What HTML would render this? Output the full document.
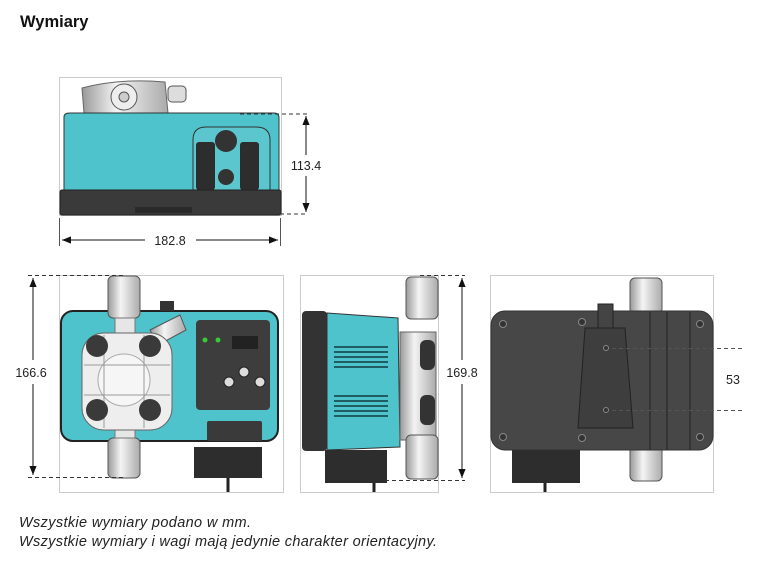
<!DOCTYPE html>
<html><head><meta charset="utf-8"><style>
body{margin:0;background:#fff;width:778px;height:562px;overflow:hidden;font-family:"Liberation Sans",Arial,sans-serif}
svg{position:absolute;left:0;top:0}
</style></head><body>
<svg width="778" height="562" viewBox="0 0 778 562" font-family="Liberation Sans, Arial, sans-serif">
<defs>
<linearGradient id="g" x1="0" x2="1"><stop offset="0" stop-color="#999"/><stop offset=".4" stop-color="#f4f4f4"/><stop offset="1" stop-color="#aaa"/></linearGradient>
<marker id="a" viewBox="0 0 10 10" refX="10" refY="5" markerWidth="9" markerHeight="9" orient="auto-start-reverse"><path d="M0,1L10,5L0,9z" fill="#111"/></marker>
</defs>
<text x="20" y="27" font-size="16.5" font-weight="bold" fill="#111">Wymiary</text>

<!-- TOP VIEW -->
<rect x="59.5" y="77.5" width="222" height="138" fill="none" stroke="#ccc"/>
<path d="M82,88 Q120,78 165,82 L168,113 L84,113z" fill="url(#g)" stroke="#666"/>
<circle cx="124" cy="97" r="13" fill="#eee" stroke="#555"/>
<circle cx="124" cy="97" r="5" fill="#ccc" stroke="#555"/>
<rect x="168" y="86" width="18" height="16" rx="4" fill="#ddd" stroke="#555"/>
<path d="M64,117 Q64,113 70,113 L274,113 Q279,113 279,118 L279,190 L64,190z" fill="#4ec3cb" stroke="#333"/>
<path d="M193,190 L193,140 Q193,127 206,127 L256,127 Q270,127 270,140 L270,190" fill="#5bc6cd" stroke="#333"/>
<circle cx="226" cy="141" r="11" fill="#333"/>
<rect x="196" y="142" width="19" height="48" rx="3" fill="#2d2d2d"/>
<rect x="240" y="142" width="19" height="48" rx="3" fill="#2d2d2d"/>
<circle cx="226" cy="177" r="8" fill="#333"/>
<rect x="60" y="190" width="221" height="25" rx="2" fill="#3a3a3a" stroke="#222"/>
<rect x="135" y="207" width="57" height="6" fill="#2a2a2a"/>
<g stroke="#333" stroke-dasharray="4,3" fill="none"><line x1="240" y1="114" x2="308" y2="114"/><line x1="280" y1="214" x2="308" y2="214"/></g>
<line x1="306" y1="116" x2="306" y2="155" stroke="#111" marker-start="url(#a)"/>
<line x1="306" y1="176" x2="306" y2="212" stroke="#111" marker-end="url(#a)"/>
<text x="306" y="170" font-size="12.5" text-anchor="middle" fill="#222">113.4</text>
<line x1="59.5" y1="218" x2="59.5" y2="246" stroke="#555"/>
<line x1="280.5" y1="218" x2="280.5" y2="246" stroke="#555"/>
<line x1="62" y1="240" x2="145" y2="240" stroke="#111" marker-start="url(#a)"/>
<line x1="196" y1="240" x2="278" y2="240" stroke="#111" marker-end="url(#a)"/>
<text x="170" y="245" font-size="12.5" text-anchor="middle" fill="#222">182.8</text>

<!-- FRONT VIEW -->
<rect x="59.5" y="275.5" width="224" height="217" fill="none" stroke="#ccc"/>
<rect x="61" y="311" width="217" height="130" rx="12" fill="#4ec3cb" stroke="#222" stroke-width="2"/>
<rect x="160" y="301" width="14" height="10" fill="#333"/>
<rect x="196" y="320" width="74" height="90" rx="4" fill="#3d3d3d"/>
<rect x="232" y="336" width="26" height="13" fill="#222"/>
<circle cx="205" cy="340" r="2.5" fill="#3c3"/><circle cx="218" cy="340" r="2.5" fill="#3c3"/>
<circle cx="229" cy="382" r="5" fill="#ddd" stroke="#222"/><circle cx="244" cy="372" r="5" fill="#ddd" stroke="#222"/><circle cx="260" cy="382" r="5" fill="#ddd" stroke="#222"/>
<rect x="207" y="421" width="55" height="20" rx="2" fill="#3a3a3a"/>
<rect x="194" y="447" width="68" height="31" fill="#2d2d2d"/>
<line x1="228" y1="478" x2="228" y2="492" stroke="#222" stroke-width="3"/>
<rect x="108" y="276" width="32" height="42" rx="5" fill="url(#g)" stroke="#555"/>
<rect x="108" y="438" width="32" height="40" rx="5" fill="url(#g)" stroke="#555"/>
<rect x="115" y="318" width="20" height="120" fill="#e6e6e6" stroke="#777"/>
<path d="M150,330 L180,315 L186,330 L158,345z" fill="url(#g)" stroke="#555"/>
<rect x="82" y="333" width="90" height="97" rx="22" fill="#eee" stroke="#666"/>
<circle cx="124" cy="380" r="26" fill="#f6f6f6" stroke="#aaa"/>
<g stroke="#999"><line x1="84" y1="365" x2="170" y2="365"/><line x1="84" y1="395" x2="170" y2="395"/><line x1="104" y1="335" x2="104" y2="428"/><line x1="144" y1="335" x2="144" y2="428"/></g>
<circle cx="97" cy="346" r="11" fill="#3a3a3a"/><circle cx="150" cy="346" r="11" fill="#3a3a3a"/>
<circle cx="97" cy="410" r="11" fill="#3a3a3a"/><circle cx="150" cy="410" r="11" fill="#3a3a3a"/>
<g stroke="#333" stroke-dasharray="4,3"><line x1="28" y1="275.5" x2="125" y2="275.5"/><line x1="28" y1="477.5" x2="125" y2="477.5"/></g>
<line x1="33" y1="278" x2="33" y2="360" stroke="#111" marker-start="url(#a)"/>
<line x1="33" y1="384" x2="33" y2="475" stroke="#111" marker-end="url(#a)"/>
<text x="31" y="377" font-size="12.5" text-anchor="middle" fill="#222">166.6</text>

<!-- SIDE VIEW -->
<rect x="300.5" y="275.5" width="138" height="217" fill="none" stroke="#ccc"/>
<rect x="302" y="311" width="25" height="140" rx="4" fill="#333"/>
<path d="M327,313 L398,318 L400,447 L327,450z" fill="#4ec3cb" stroke="#333"/>
<g fill="#1e5e63"><rect x="334" y="346" width="54" height="2"/><rect x="334" y="351" width="54" height="2"/><rect x="334" y="356" width="54" height="2"/><rect x="334" y="361" width="54" height="2"/><rect x="334" y="366" width="54" height="2"/>
<rect x="334" y="395" width="54" height="2"/><rect x="334" y="400" width="54" height="2"/><rect x="334" y="405" width="54" height="2"/><rect x="334" y="410" width="54" height="2"/><rect x="334" y="415" width="54" height="2"/></g>
<rect x="400" y="332" width="36" height="108" fill="url(#g)" stroke="#666"/>
<rect x="420" y="340" width="15" height="30" rx="6" fill="#333"/><rect x="420" y="395" width="15" height="30" rx="6" fill="#333"/>
<rect x="406" y="277" width="32" height="42" rx="5" fill="url(#g)" stroke="#555"/>
<rect x="406" y="435" width="32" height="44" rx="5" fill="url(#g)" stroke="#555"/>
<rect x="325" y="450" width="62" height="33" fill="#2d2d2d"/>
<line x1="374" y1="483" x2="374" y2="492" stroke="#222" stroke-width="3"/>
<g stroke="#333" stroke-dasharray="4,3"><line x1="420" y1="275.5" x2="465" y2="275.5"/><line x1="385" y1="480.5" x2="465" y2="480.5"/></g>
<line x1="462" y1="278" x2="462" y2="360" stroke="#111" marker-start="url(#a)"/>
<line x1="462" y1="384" x2="462" y2="478" stroke="#111" marker-end="url(#a)"/>
<text x="462" y="377" font-size="12.5" text-anchor="middle" fill="#222">169.8</text>

<!-- BACK VIEW -->
<rect x="490.5" y="275.5" width="223" height="217" fill="none" stroke="#ccc"/>
<rect x="630" y="278" width="32" height="36" rx="5" fill="url(#g)" stroke="#555"/>
<rect x="630" y="445" width="32" height="36" rx="5" fill="url(#g)" stroke="#555"/>
<rect x="491" y="311" width="222" height="139" rx="14" fill="#474747" stroke="#333"/>
<path d="M585,328 L625,328 L633,428 L578,428z" fill="#3e3e3e" stroke="#222"/>
<rect x="598" y="304" width="15" height="24" fill="#444" stroke="#222"/>
<g stroke="#222"><line x1="650" y1="312" x2="650" y2="450"/><line x1="667" y1="312" x2="667" y2="450"/><line x1="690" y1="312" x2="690" y2="450"/></g>
<g fill="#333" stroke="#888"><circle cx="503" cy="324" r="3.5"/><circle cx="582" cy="322" r="3.5"/><circle cx="700" cy="324" r="3.5"/><circle cx="503" cy="437" r="3.5"/><circle cx="582" cy="438" r="3.5"/><circle cx="700" cy="437" r="3.5"/><circle cx="606" cy="348" r="2.5"/><circle cx="606" cy="410" r="2.5"/></g>
<rect x="512" y="450" width="68" height="33" fill="#2d2d2d"/>
<line x1="545" y1="483" x2="545" y2="492" stroke="#222" stroke-width="3"/>
<g stroke="#555" stroke-dasharray="4,3"><line x1="612" y1="348.5" x2="744" y2="348.5"/><line x1="612" y1="410.5" x2="744" y2="410.5"/></g>
<text x="733" y="384" font-size="12.5" text-anchor="middle" fill="#222">53</text>

<text x="19" y="527" font-size="14.5" font-style="italic" fill="#222" textLength="232">Wszystkie wymiary podano w mm.</text>
<text x="19" y="546" font-size="14.5" font-style="italic" fill="#222" textLength="418">Wszystkie wymiary i wagi mają jedynie charakter orientacyjny.</text>
</svg>
</body></html>
